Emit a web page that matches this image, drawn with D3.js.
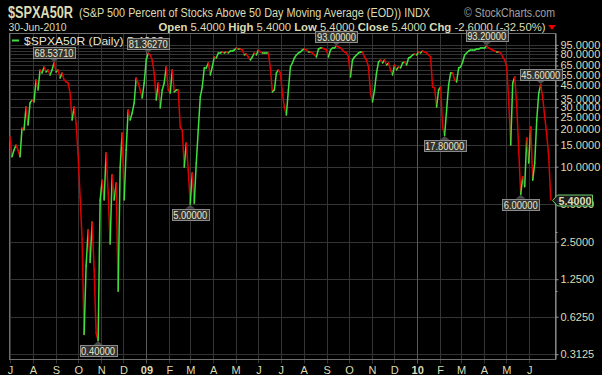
<!DOCTYPE html>
<html>
<head>
<meta charset="utf-8">
<script src="https://cdn.jsdelivr.net/npm/d3@7"></script>
<style>
  body { margin: 0; background: #000; }
  svg { display: block; font-family: "Liberation Sans", Arial, sans-serif; }
</style>
</head>
<body>
<div id="chart"></div>
<script>
const width = 602;
const height = 375;
const plot = { left: 9.5, right: 555.5, top: 33.5, bottom: 359.5 };

// daily readings sampled evenly from 1-Jul-2008 to 30-Jun-2010
const startDate = new Date(2008, 6, 1);
const endDate = new Date(2010, 5, 30);
const values = [
  17.3, 12.0, 13.6, 14.9, 13.6, 12.0, 20.4, 19.7, 30.1, 21.6,
  32.5, 34.3, 33.1, 49.7, 41.3, 59.8, 56.5, 63.2, 57.6, 59.8,
  54.5, 59.8, 68.5371, 57.6, 59.8, 51.5, 56.5, 49.7, 47.9, 47.0,
  39.0, 23.7, 30.1, 22.4, 12.4, 5.7, 2.6, 0.45, 1.6, 3.1,
  1.7, 3.6, 1.5, 0.46, 0.4, 5.4, 7.8, 5.4, 12.9, 6.2,
  2.4, 8.6, 5.4, 7.4, 1.0, 9.9, 18.6, 5.4, 13.6, 28.5,
  23.7, 27.0, 32.5, 51.5, 47.0, 41.3, 35.6, 47.0, 71.9, 81.3627,
  78.9, 71.9, 56.5, 34.3, 47.0, 29.6, 41.3, 47.0, 63.2, 41.3,
  39.0, 59.8, 39.8, 41.3, 41.3, 20.8, 19.7, 9.9, 15.5, 9.4,
  5.0, 8.9, 5.1, 10.7, 19.7, 36.3, 43.6, 62.0, 62.0, 68.0,
  54.5, 63.2, 76.0, 74.6, 81.8, 81.8, 83.3, 81.8, 83.3, 81.8,
  84.9, 84.9, 86.5, 89.7, 88.1, 88.1, 86.5, 78.9, 80.3, 76.0,
  71.9, 76.0, 81.8, 78.9, 86.5, 83.3, 81.8, 81.8, 81.8, 81.8,
  62.0, 39.8, 41.3, 56.5, 59.8, 56.5, 39.0, 30.1, 26.0, 41.3,
  63.2, 68.0, 74.6, 78.9, 81.8, 83.3, 86.5, 88.1, 86.5, 83.3,
  83.3, 81.8, 78.9, 76.0, 88.1, 89.7, 89.7, 88.1, 86.5, 76.0,
  86.5, 89.7, 89.7, 93.0, 91.4, 89.7, 86.5, 83.3, 81.8, 76.0,
  52.5, 71.9, 76.0, 78.9, 81.8, 83.3, 83.3, 76.0, 71.9, 63.2,
  39.0, 33.1, 41.3, 56.5, 69.3, 71.9, 68.0, 71.9, 65.5, 68.0,
  59.8, 54.5, 65.5, 59.8, 63.2, 62.0, 68.0, 69.3, 65.5, 74.6,
  76.0, 78.9, 80.3, 78.9, 83.3, 81.8, 84.9, 83.3, 81.8, 78.9,
  76.0, 43.6, 42.8, 30.1, 41.3, 43.6, 20.8, 17.8, 28.5, 45.3,
  56.5, 56.5, 49.7, 47.9, 62.0, 63.2, 69.3, 78.9, 81.8, 84.9,
  86.5, 86.5, 86.5, 88.1, 88.1, 89.7, 89.7, 89.7, 93.2, 89.7,
  88.1, 86.5, 84.9, 83.3, 83.3, 81.8, 76.0, 71.9, 63.2, 34.3,
  14.9, 47.0, 52.5, 31.3, 13.6, 6.0, 8.3, 6.9, 17.0, 10.7,
  20.8, 7.8, 10.7, 23.7, 39.0, 45.6, 35.6, 25.1, 18.0, 12.0,
  5.4
];

const labelTicks = [95, 80, 65, 55, 45, 35, 30, 25, 20, 15, 10, 5, 2.5, 1.25, 0.625, 0.3125];
const gridTicks = [95, 90, 85, 80, 75, 70, 65, 60, 55, 50, 45, 40, 35, 30, 25, 20, 15, 10, 5, 2.5, 1.25, 0.625, 0.3125];
const minorTicks = [90, 85, 75, 70, 60, 50, 40, 3, 1];

const annotations = [
  { value: 68.5371, label: "68.53710", side: "top" },
  { value: 0.4, label: "0.40000", side: "bottom" },
  { value: 81.3627, label: "81.36270", side: "top" },
  { value: 5.0, label: "5.00000", side: "bottom" },
  { value: 93.0, label: "93.00000", side: "top" },
  { value: 17.8, label: "17.80000", side: "bottom" },
  { value: 93.2, label: "93.20000", side: "top" },
  { value: 6.0, label: "6.00000", side: "bottom" },
  { value: 45.6, label: "45.60000", side: "top" }
];

const symbol = "$SPXA50R";
const subtitle = "(S&P 500 Percent of Stocks Above 50 Day Moving Average (EOD))  INDX";
const lastDate = "30-Jun-2010";
const quote = [["Open", "5.4000"], ["High", "5.4000"], ["Low", "5.4000"], ["Close", "5.4000"], ["Chg", "-2.6000 (-32.50%)"]];
const lastValue = 5.4;

const khaki = "#dcdcb4";
const upColor = "#3fe03f";
const downColor = "#e00000";

const svg = d3.select("#chart")
    .append("svg")
    .attr("width", width)
    .attr("height", height);

svg.append("rect").attr("width", width).attr("height", height).attr("fill", "#000");

// Scales
const x = d3.scaleTime()
    .domain([new Date(2008, 6, 1), new Date(2010, 6, 1)])
    .range([10, 551.5]);

const y = d3.scaleLog()
    .base(2)
    .domain([0.3125, 95])
    .range([354.2, 44.9]);

const n = values.length;
const data = values.map((v, i) => ({
    date: new Date(+startDate + i * (endDate - startDate) / (n - 1)),
    value: v
}));

// ----- Header -----
svg.append("text")
    .attr("x", 8).attr("y", 17.5)
    .attr("fill", khaki)
    .attr("font-size", 16).attr("font-weight", "bold")
    .attr("textLength", 65).attr("lengthAdjust", "spacingAndGlyphs")
    .text(symbol);

svg.append("text")
    .attr("x", 79).attr("y", 16.5)
    .attr("fill", khaki)
    .attr("font-size", 12.5)
    .attr("textLength", 351).attr("lengthAdjust", "spacingAndGlyphs")
    .text(subtitle);

svg.append("text")
    .attr("x", 464).attr("y", 16.5)
    .attr("fill", "#a0a0a0")
    .attr("font-size", 12.5)
    .attr("textLength", 91).attr("lengthAdjust", "spacingAndGlyphs")
    .text("\u00a9 StockCharts.com");

svg.append("text")
    .attr("x", 8.5).attr("y", 31)
    .attr("fill", khaki)
    .attr("font-size", 11.5)
    .attr("textLength", 58).attr("lengthAdjust", "spacingAndGlyphs")
    .text(lastDate);

const quoteText = svg.append("text")
    .attr("x", 158.5).attr("y", 31)
    .attr("fill", khaki)
    .attr("font-size", 11.5)
    .attr("textLength", 387).attr("lengthAdjust", "spacingAndGlyphs");
quote.forEach(([k, v], i) => {
    quoteText.append("tspan").attr("font-weight", "bold").text((i ? "  " : "") + k + " ");
    quoteText.append("tspan").text(v);
});
svg.append("path")
    .attr("d", "M548,25 L556,25 L552,30 Z")
    .attr("fill", "#e00000");

// ----- Grid -----
const months = d3.timeMonth.range(new Date(2008, 6, 1), new Date(2010, 6, 1));

svg.append("g")
    .selectAll("line")
    .data(gridTicks)
    .join("line")
    .attr("x1", plot.left).attr("x2", plot.right)
    .attr("y1", d => Math.round(y(d)) + 0.5)
    .attr("y2", d => Math.round(y(d)) + 0.5)
    .attr("stroke", "#343434");

svg.append("g")
    .selectAll("line")
    .data(months)
    .join("line")
    .attr("x1", d => Math.round(x(d)) + 0.5)
    .attr("x2", d => Math.round(x(d)) + 0.5)
    .attr("y1", plot.top).attr("y2", plot.bottom + 4)
    .attr("stroke", d => d.getMonth() === 0 ? "#5a5a5a" : "#343434");

// plot frame
svg.append("rect")
    .attr("x", plot.left).attr("y", plot.top)
    .attr("width", plot.right - plot.left)
    .attr("height", plot.bottom - plot.top)
    .attr("fill", "none")
    .attr("stroke", "#6e6e6e");

// ----- Axes -----
const gY = svg.append("g")
    .attr("transform", `translate(${plot.right},0)`)
    .call(d3.axisRight(y).tickValues(labelTicks).tickFormat(d3.format(".4f")).tickSize(3).tickPadding(2));
gY.select(".domain").attr("stroke", "#9a9a9a").attr("d", `M0.5,${plot.top}V${plot.bottom}`);
gY.selectAll(".tick line").attr("stroke", "#9a9a9a");
gY.selectAll(".tick text")
    .attr("fill", khaki)
    .attr("font-size", 11)
    .attr("font-family", "Liberation Sans, Arial, sans-serif");

svg.append("g")
    .selectAll("line")
    .data(minorTicks)
    .join("line")
    .attr("x1", plot.right).attr("x2", plot.right + 2)
    .attr("y1", d => Math.round(y(d)) + 0.5)
    .attr("y2", d => Math.round(y(d)) + 0.5)
    .attr("stroke", "#9a9a9a");

const gX = svg.append("g")
    .attr("transform", `translate(0,${plot.bottom})`)
    .call(d3.axisBottom(x)
        .tickValues(months)
        .tickSize(0)
        .tickPadding(7)
        .tickFormat(d => d.getMonth() === 0 ? d3.timeFormat("%y")(d) : d3.timeFormat("%b")(d)[0]));
gX.select(".domain").remove();
gX.selectAll(".tick text")
    .attr("fill", khaki)
    .attr("font-size", 11)
    .attr("font-family", "Liberation Sans, Arial, sans-serif")
    .attr("font-weight", d => d.getMonth() === 0 ? "bold" : "normal");

// ----- Price line, coloured by direction -----
svg.append("g")
    .selectAll("line")
    .data(data.slice(1))
    .join("line")
    .attr("x1", (d, i) => x(data[i].date))
    .attr("y1", (d, i) => y(data[i].value))
    .attr("x2", d => x(d.date))
    .attr("y2", d => y(d.value))
    .attr("stroke", (d, i) => d.value >= data[i].value ? upColor : downColor)
    .attr("stroke-width", 1.5)
    .attr("stroke-linecap", "round");

// ----- Legend -----
svg.append("line")
    .attr("x1", 12).attr("x2", 19)
    .attr("y1", 40.5).attr("y2", 40.5)
    .attr("stroke", upColor).attr("stroke-width", 2);
svg.append("text")
    .attr("x", 24).attr("y", 45)
    .attr("fill", "#e4e4d4")
    .attr("font-size", 11.5)
    .attr("textLength", 140).attr("lengthAdjust", "spacingAndGlyphs")
    .text(`${symbol} (Daily) ${lastValue.toFixed(4)}`);

// ----- Peak / trough annotations -----
const ann = svg.append("g");
annotations.forEach(a => {
    const d = data[values.indexOf(a.value)];
    const px = x(d.date);
    const py = y(d.value);
    const g = ann.append("g");
    const boxH = 11;
    const gap = 4.5;
    const boxW = a.label.length * 5 + 2;
    const top = a.side === "top";
    const boxY = top ? py - gap - boxH : py + gap;
    g.append("path")
        .attr("d", top
            ? `M${px - 5},${py - gap} L${px + 5},${py - gap} L${px},${py - 0.5} Z`
            : `M${px - 5},${py + gap} L${px + 5},${py + gap} L${px},${py + 0.5} Z`)
        .attr("fill", "#4a4a4a");
    g.append("rect")
        .attr("x", Math.round(px - boxW / 2) + 0.5)
        .attr("y", Math.round(boxY) + 0.5)
        .attr("width", boxW).attr("height", boxH)
        .attr("fill", "#333").attr("stroke", "#8a8a8a");
    g.append("text")
        .attr("x", px).attr("y", Math.round(boxY) + 10)
        .attr("text-anchor", "middle")
        .attr("fill", "#e8e8c8")
        .attr("font-size", 10.5)
        .attr("textLength", boxW - 3).attr("lengthAdjust", "spacingAndGlyphs")
        .text(a.label);
});

// ----- Last value tag -----
const ly = Math.round(y(lastValue)) + 0.5;
svg.append("path")
    .attr("d", `M552.5,${ly} L557.5,${ly - 5.5} L592.5,${ly - 5.5} L592.5,${ly + 5.5} L557.5,${ly + 5.5} Z`)
    .attr("fill", "#1c1c1c")
    .attr("stroke", "#6ad06a");
svg.append("text")
    .attr("x", 575).attr("y", ly + 4.5)
    .attr("text-anchor", "middle")
    .attr("fill", khaki)
    .attr("font-size", 11).attr("font-weight", "bold")
    .attr("textLength", 33).attr("lengthAdjust", "spacingAndGlyphs")
    .text(lastValue.toFixed(4));
</script>
</body>
</html>
